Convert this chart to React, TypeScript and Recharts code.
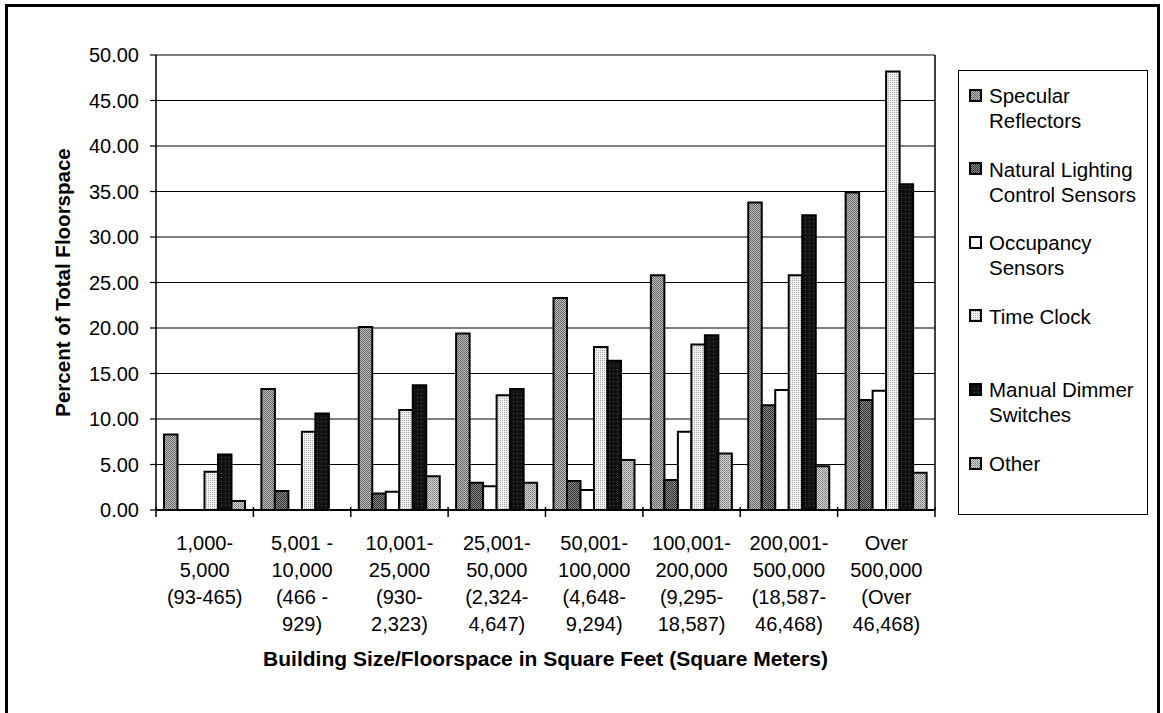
import React from 'react';
import { BarChart, Bar, XAxis, YAxis, CartesianGrid, Legend } from 'recharts';

const FONT = '"Liberation Sans", Arial, Helvetica, sans-serif';

// x categories, one entry per text line under the axis
const categoryLines = [
  ['1,000-', '5,000', '(93-465)'],
  ['5,001 -', '10,000', '(466 -', '929)'],
  ['10,001-', '25,000', '(930-', '2,323)'],
  ['25,001-', '50,000', '(2,324-', '4,647)'],
  ['50,001-', '100,000', '(4,648-', '9,294)'],
  ['100,001-', '200,000', '(9,295-', '18,587)'],
  ['200,001-', '500,000', '(18,587-', '46,468)'],
  ['Over', '500,000', '(Over', '46,468)'],
];
const categories = categoryLines.map((l) => l.join(' '));

// percent of total floorspace
const specular = [8.3, 13.3, 20.1, 19.4, 23.3, 25.8, 33.8, 34.9];
const natural = [null, 2.1, 1.8, 3.0, 3.2, 3.3, 11.5, 12.1];
const occupancy = [null, null, 2.0, 2.6, 2.2, 8.6, 13.2, 13.1];
const timeClock = [4.2, 8.6, 11.0, 12.6, 17.9, 18.2, 25.8, 48.2];
const manual = [6.1, 10.6, 13.7, 13.3, 16.4, 19.2, 32.4, 35.8];
const other = [1.0, null, 3.7, 3.0, 5.5, 6.2, 4.8, 4.1];

const yTicks = [0, 5, 10, 15, 20, 25, 30, 35, 40, 45, 50];

const seriesKeys = ['specular', 'natural', 'occupancy', 'timeClock', 'manual', 'other'];
const seriesLabels = [
  ['Specular', 'Reflectors'],
  ['Natural Lighting', 'Control Sensors'],
  ['Occupancy', 'Sensors'],
  ['Time Clock'],
  ['Manual Dimmer', 'Switches'],
  ['Other'],
];
const seriesValues = [specular, natural, occupancy, timeClock, manual, other];

const FILLS: Record<string, string> = {
  specular: 'url(#pSpec)',
  natural: 'url(#pNat)',
  occupancy: '#ffffff',
  timeClock: 'url(#pTime)',
  manual: 'url(#pMan)',
  other: 'url(#pOther)',
};

const data = categories.map((c, i) => {
  const row: Record<string, any> = { category: c };
  seriesKeys.forEach((k, s) => {
    row[k] = seriesValues[s][i];
  });
  return row;
});

const XTick = (props: any) => {
  const { x, y, payload, index } = props;
  const half = payload && payload.offset ? payload.offset : 779 / categories.length / 2;
  const lines = categoryLines[index] || [];
  return (
    <g>
      <line x1={x - half} x2={x - half} y1={y - 3} y2={y + 7} stroke="#000" strokeWidth={1.5} />
      {index === categories.length - 1 && (
        <line x1={x + half} x2={x + half} y1={y - 3} y2={y + 7} stroke="#000" strokeWidth={1.5} />
      )}
      <text textAnchor="middle" fontSize={20} fontFamily={FONT} fill="#000">
        {lines.map((l, i) => (
          <tspan key={i} x={x} y={y + 40 + i * 27}>
            {l}
          </tspan>
        ))}
      </text>
    </g>
  );
};

const YTitle = (props: any) => {
  const vb = props.viewBox || { x: 60, y: 55, width: 96, height: 455 };
  const cx = vb.x + 2;
  const cy = vb.y + vb.height / 2;
  return (
    <text
      x={cx}
      y={cy}
      transform={`rotate(-90 ${cx} ${cy})`}
      textAnchor="middle"
      dominantBaseline="central"
      fontSize={20.5}
      fontWeight="bold"
      fontFamily={FONT}
      fill="#000"
    >
      Percent of Total Floorspace
    </text>
  );
};

const XTitle = (props: any) => {
  const vb = props.viewBox || { x: 156, y: 510, width: 779, height: 180 };
  return (
    <text
      x={vb.x + vb.width / 2}
      y={vb.y + 156}
      textAnchor="middle"
      fontSize={21}
      fontWeight="bold"
      fontFamily={FONT}
      fill="#000"
    >
      Building Size/Floorspace in Square Feet (Square Meters)
    </text>
  );
};

const LegendBox = (props: any) => {
  const payload = props.payload || [];
  // keep the series order of the chart, not the alphabetical one
  const entries = seriesKeys
    .map((k) => payload.find((p: any) => p.dataKey === k))
    .filter(Boolean);
  return (
    <div
      style={{
        position: 'relative',
        width: 190,
        height: 445,
        border: '1.5px solid #000',
        boxSizing: 'border-box',
        background: '#fff',
        fontFamily: FONT,
        fontSize: 20.5,
        color: '#000',
      }}
    >
      {entries.map((p: any, i: number) => {
        const s = seriesKeys.indexOf(p.dataKey);
        const center = 25 + i * 73.6;
        return (
          <div key={p.dataKey}>
            <svg width={13} height={13} style={{ position: 'absolute', left: 10, top: center - 7.5 }}>
              <rect x={1} y={1} width={11} height={11} fill={FILLS[p.dataKey]} stroke="#000" strokeWidth={2} />
            </svg>
            <div style={{ position: 'absolute', left: 30, top: center - 13, lineHeight: '25px', whiteSpace: 'nowrap' }}>
              {seriesLabels[s].map((l, j) => (
                <div key={j}>{l}</div>
              ))}
            </div>
          </div>
        );
      })}
    </div>
  );
};

export default function App() {
  return (
    <div style={{ position: 'absolute', left: 0, top: 0, width: 1163, height: 713, overflow: 'hidden', background: '#fff' }}>
      <div
        style={{
          position: 'absolute',
          left: 5,
          top: 4,
          width: 1155,
          height: 780,
          border: '3px solid #000',
          boxSizing: 'border-box',
        }}
      />
      <div style={{ position: 'absolute', left: 0, top: 0 }}>
        <BarChart
          width={1163}
          height={713}
          data={data}
          margin={{ top: 55, right: 227, bottom: 23, left: 60 }}
          barSize={13.5}
          barGap={0}
        >
          <defs>
            <pattern id="pSpec" width="2" height="2" patternUnits="userSpaceOnUse">
              <rect width="2" height="2" fill="#c0c0c0" />
              <rect x="0" y="0" width="1" height="1" fill="#5e5e5e" />
              <rect x="1" y="1" width="1" height="1" fill="#6a6a6a" />
            </pattern>
            <pattern id="pNat" width="2" height="2" patternUnits="userSpaceOnUse">
              <rect width="2" height="2" fill="#8a8a8a" />
              <rect x="0" y="0" width="1" height="1" fill="#2a2a2a" />
              <rect x="1" y="1" width="1" height="1" fill="#333" />
            </pattern>
            <pattern id="pTime" width="2" height="2" patternUnits="userSpaceOnUse">
              <rect width="2" height="2" fill="#f2f2f2" />
              <rect x="0" y="0" width="1" height="1" fill="#a6a6a6" />
            </pattern>
            <pattern id="pMan" width="4" height="4" patternUnits="userSpaceOnUse">
              <rect width="4" height="4" fill="#111" />
              <rect x="1" y="1" width="1" height="1" fill="#555" />
            </pattern>
            <pattern id="pOther" width="2" height="2" patternUnits="userSpaceOnUse">
              <rect width="2" height="2" fill="#d6d6d6" />
              <rect x="0" y="0" width="1" height="1" fill="#777" />
              <rect x="1" y="1" width="1" height="1" fill="#959595" />
            </pattern>
          </defs>
          <CartesianGrid vertical={false} stroke="#000" strokeWidth={1.2} />
          <XAxis
            dataKey="category"
            interval={0}
            tickSize={0}
            tickMargin={0}
            tickLine={false}
            axisLine={{ stroke: '#000', strokeWidth: 2 }}
            tick={<XTick />}
            height={180}
            label={XTitle}
          />
          <YAxis
            domain={[0, 50]}
            ticks={yTicks}
            interval={0}
            width={96}
            tickSize={6}
            tickMargin={11}
            tickFormatter={(v: number) => v.toFixed(2)}
            tick={{ fill: '#000', fontSize: 20, fontFamily: FONT }}
            tickLine={{ stroke: '#000', strokeWidth: 1.2 }}
            axisLine={{ stroke: '#000', strokeWidth: 1.5 }}
            label={YTitle}
          />
          <YAxis
            yAxisId="right"
            orientation="right"
            domain={[0, 50]}
            width={1}
            tick={false}
            tickLine={false}
            axisLine={{ stroke: '#000', strokeWidth: 1.5 }}
          />
          <Legend
            layout="vertical"
            align="center"
            verticalAlign="middle"
            wrapperStyle={{ left: 958, top: 70, width: 190, height: 445 }}
            content={LegendBox}
          />
          {seriesKeys.map((k, s) => (
            <Bar
              key={k}
              dataKey={k}
              name={seriesLabels[s].join(' ')}
              fill={FILLS[k]}
              stroke="#000"
              strokeWidth={2}
              isAnimationActive={false}
            />
          ))}
        </BarChart>
      </div>
    </div>
  );
}
